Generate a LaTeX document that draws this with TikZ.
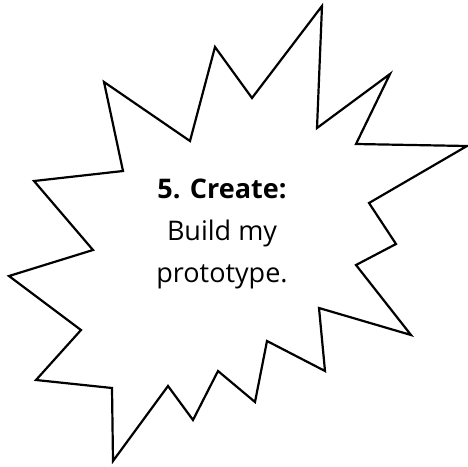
\documentclass[tikz,border=0pt]{standalone}
\usepackage{fontspec}
\setmainfont{Open Sans}
\begin{document}
\begin{tikzpicture}[x=1pt,y=-1pt,
  starline/.style={draw=black,line width=2.2pt,line join=miter,fill=white},
  txt/.style={anchor=base,inner sep=0pt,font=\fontsize{27}{32}\selectfont}]
\useasboundingbox (0,0) rectangle (468,466);
\draw[starline] (34,181) -- (123,171) -- (104,82) -- (190,141) -- (215,47) -- (252,98)
  -- (322,6) -- (317,128) -- (390,74) -- (356,144) -- (467,146) -- (369,203)
  -- (396,244) -- (356,265) -- (411,335) -- (319,308) -- (325,371) -- (267,341)
  -- (255,402) -- (218,371) -- (193,420) -- (168,386) -- (113,461) -- (112,388)
  -- (36,380) -- (81,330) -- (9,276) -- (93,250) -- cycle;
\node[txt,font=\fontsize{27}{32}\selectfont\bfseries] (t1) at (222,198) {5. Create:};
\node[txt] (t2) at (222,240) {Build my};
\node[txt] (t3) at (222,282) {prototype.};
\end{tikzpicture}
\end{document}
